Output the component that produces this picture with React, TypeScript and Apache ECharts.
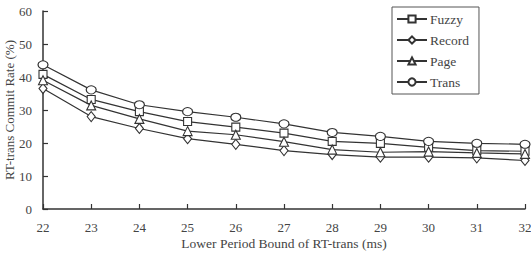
import React, { useEffect, useRef } from "react";
import * as echarts from "echarts";

const xValues = [22, 23, 24, 25, 26, 27, 28, 29, 30, 31, 32];
const fuzzy = [40.8, 33.2, 29.5, 26.5, 24.8, 23.0, 20.5, 19.9, 18.7, 17.7, 17.5];
const record = [36.5, 28.0, 24.4, 21.3, 19.6, 17.7, 16.5, 15.7, 15.7, 15.5, 14.7];
const page = [39.0, 31.4, 27.3, 23.6, 22.5, 20.4, 18.0, 17.2, 17.4, 17.0, 16.7];
const trans = [43.7, 36.1, 31.6, 29.5, 27.8, 25.8, 23.2, 22.0, 20.5, 19.9, 19.6];
const seriesNames = ["Fuzzy", "Record", "Page", "Trans"];

const FONT = "Liberation Serif";
const TXT = "#444";
const LINE = "#333";

export default function App() {
  const ref = useRef<HTMLDivElement>(null);
  useEffect(() => {
    if (!ref.current) return;
    const chart = echarts.init(ref.current, undefined, { renderer: "svg" });
    const mk = (name: string, data: number[], symbol: string, size: number | number[]) => ({
      name,
      type: "line",
      data: xValues.map((x, i) => [x, data[i]]),
      symbol,
      symbolSize: size,
      showAllSymbol: true,
      lineStyle: { color: LINE, width: 1.2 },
      itemStyle: { color: "#fff", borderColor: LINE, borderWidth: 1.1 },
    });
    chart.setOption({
      animation: false,
      backgroundColor: "#fff",
      textStyle: { fontFamily: FONT },
      grid: { left: 43, right: 6, top: 11, bottom: 48, outerBoundsMode: "none", containLabel: false },
      legend: {
        orient: "vertical",
        left: 392,
        top: 7,
        data: seriesNames,
        itemWidth: 30,
        itemHeight: 9,
        itemGap: 7,
        padding: [5, 10, 5, 4],
        borderColor: "#555",
        borderWidth: 1,
        textStyle: { fontFamily: FONT, fontSize: 13.5, color: TXT, padding: [0, 0, 0, -2] },
      },
      xAxis: {
        type: "value",
        min: 22,
        max: 32,
        interval: 1,
        name: "Lower Period Bound of RT-trans (ms)",
        nameLocation: "middle",
        nameGap: 27,
        nameMoveOverlap: false,
        nameTextStyle: { fontFamily: FONT, fontSize: 13.5, color: TXT },
        axisLine: { lineStyle: { color: LINE, width: 1.5 } },
        axisTick: { inside: true, length: 5, lineStyle: { color: LINE, width: 1.2 } },
        axisLabel: { fontFamily: FONT, fontSize: 13, color: TXT, margin: 12 },
        splitLine: { show: false },
      },
      yAxis: {
        type: "value",
        min: 0,
        max: 60,
        interval: 10,
        name: "RT-trans Commit Rate (%)",
        nameLocation: "middle",
        nameGap: 27,
        nameMoveOverlap: false,
        nameTextStyle: { fontFamily: FONT, fontSize: 13, color: TXT },
        axisLine: { show: true, lineStyle: { color: LINE, width: 1.5 } },
        axisTick: { show: true, inside: true, length: 5, lineStyle: { color: LINE, width: 1.2 } },
        axisLabel: { fontFamily: FONT, fontSize: 13, color: TXT, margin: 11 },
        splitLine: { show: false },
      },
      series: [
        mk("Fuzzy", fuzzy, "rect", 8),
        mk("Record", record, "diamond", [8, 10]),
        mk("Page", page, "triangle", 9),
        mk("Trans", trans, "circle", [10, 8]),
      ],
    });
    return () => chart.dispose();
  }, []);
  return <div ref={ref} style={{ width: 531, height: 257, position: "absolute", left: 0, top: 0 }} />;
}
